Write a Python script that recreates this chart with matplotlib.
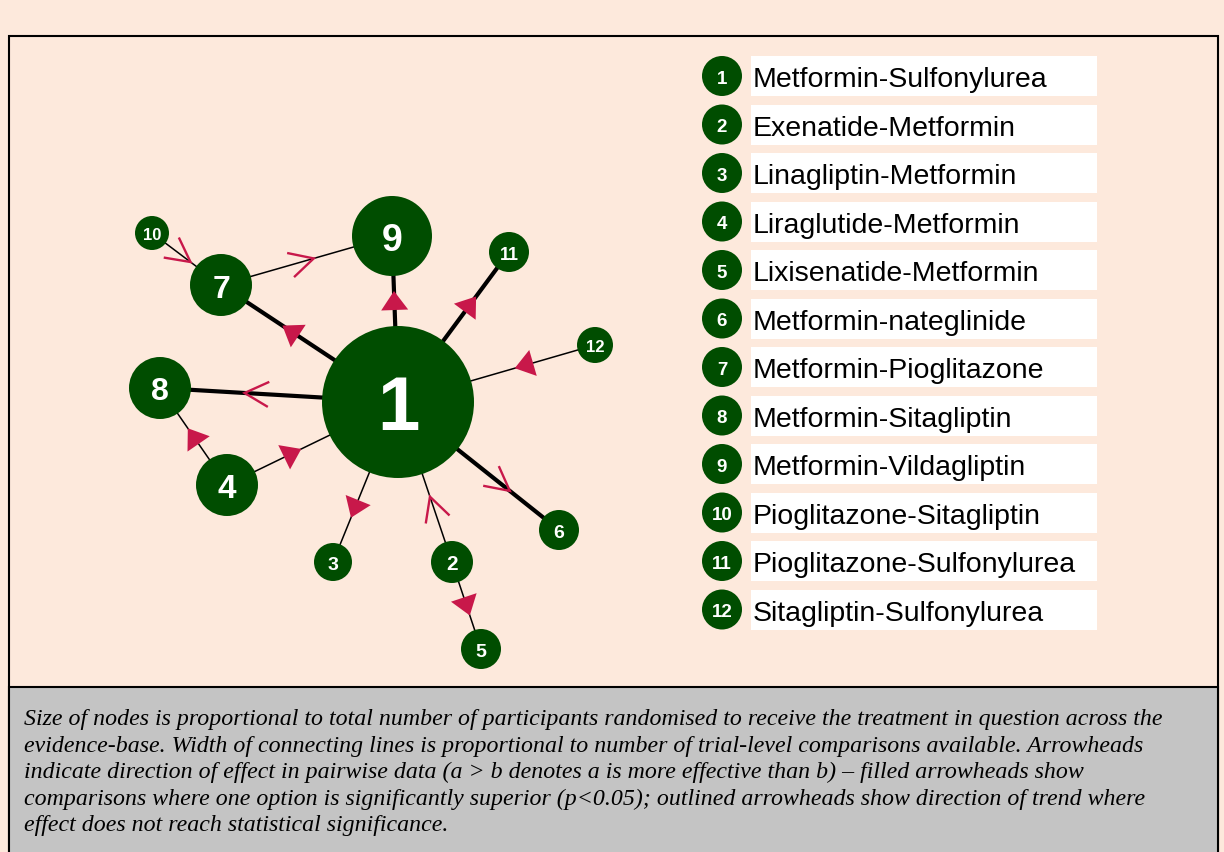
import numpy as np
from matplotlib import pyplot as plt
from matplotlib.patches import Circle, Rectangle, Polygon

plt.rcParams['font.family'] = ['Liberation Sans', 'DejaVu Sans']

# treatments (legend)
treatments = ["Metformin-Sulfonylurea", "Exenatide-Metformin", "Linagliptin-Metformin",
              "Liraglutide-Metformin", "Lixisenatide-Metformin", "Metformin-nateglinide",
              "Metformin-Pioglitazone", "Metformin-Sitagliptin", "Metformin-Vildagliptin",
              "Pioglitazone-Sitagliptin", "Pioglitazone-Sulfonylurea", "Sitagliptin-Sulfonylurea"]

# node size (radius, px) ~ participants
node_size = [76, 21, 19, 31, 20, 20, 31, 31, 40, 17, 20, 18]
node_font = [55, 15, 14, 24, 14, 14, 23, 23, 27, 12, 13, 12]
# layout positions (px)
node_x = [398, 452, 333, 227, 481, 559, 221, 160, 392, 152, 509, 595]
node_y = [403, 563, 563, 486, 650, 531, 286, 389, 237, 234, 253, 346]

# comparisons: arrow points from -> to ("a > b")
edge_from = [1, 1, 1, 12, 1, 4, 4, 1, 2, 2, 1, 7, 10]
edge_to = [7, 9, 11, 1, 8, 8, 1, 3, 1, 5, 6, 9, 7]
edge_thick = [1, 1, 1, 0, 1, 0, 0, 0, 0, 0, 1, 0, 0]
edge_sig = [1, 1, 1, 1, 0, 1, 1, 1, 0, 1, 0, 0, 0]

caption_lines = [
    "Size of nodes is proportional to total number of participants randomised to receive the treatment in question across the",
    "evidence-base. Width of connecting lines is proportional to number of trial-level comparisons available. Arrowheads",
    "indicate direction of effect in pairwise data (a > b denotes a is more effective than b) \u2013 filled arrowheads show",
    "comparisons where one option is significantly superior (p<0.05); outlined arrowheads show direction of trend where",
    "effect does not reach statistical significance.",
]

green = '#004d00'
red = '#c8184a'
peach = '#fde9dc'

fig = plt.figure(figsize=(12.24, 8.53), dpi=100, facecolor=peach)
ax = fig.add_axes([0, 0, 1, 1])
ax.set_xlim(0, 1224)
ax.set_ylim(853, 0)
ax.axis('off')

# frames
ax.add_patch(Rectangle((9, 37), 1209, 830, facecolor=peach, edgecolor='black', lw=1.5, zorder=0))
ax.add_patch(Rectangle((9, 688), 1209, 180, facecolor='#c4c4c4', edgecolor='black', lw=1.5, zorder=0))

# edges
for a, b, th, sig in zip(edge_from, edge_to, edge_thick, edge_sig):
    x1, y1 = node_x[a - 1], node_y[a - 1]
    x2, y2 = node_x[b - 1], node_y[b - 1]
    ax.plot([x1, x2], [y1, y2], color='black', lw=3.0 if th else 1.1, zorder=1, solid_capstyle='butt')
    d = np.array([x2 - x1, y2 - y1], float)
    d /= np.hypot(*d)
    p = np.array([-d[1], d[0]])
    e1 = np.array([x1, y1]) + d * node_size[a - 1]
    e2 = np.array([x2, y2]) - d * node_size[b - 1]
    c = (e1 + e2) / 2
    if sig:
        tip = c + d * 10
        base = c - d * 9
        ax.add_patch(Polygon([tip, base + p * 13.5, base - p * 13.5], closed=True,
                             facecolor=red, edgecolor='none', zorder=3))
    else:
        tip = c + d * 12
        back = tip - d * 23
        ax.plot([back[0] + p[0] * 12, tip[0], back[0] - p[0] * 12],
                [back[1] + p[1] * 12, tip[1], back[1] - p[1] * 12],
                color=red, lw=1.7, zorder=3, solid_joinstyle='miter')

# nodes
for i in range(len(node_x)):
    ax.add_patch(Circle((node_x[i], node_y[i]), node_size[i], facecolor=green, edgecolor='none', zorder=4))
    fs = node_font[i]
    ax.text(node_x[i], node_y[i] + 0.36 * fs * 100 / 72, str(i + 1), color='white', fontsize=fs,
            fontweight='bold', ha='center', va='baseline', zorder=5)

# legend
for i, name in enumerate(treatments):
    y = 77 + i * 48.5
    ax.add_patch(Circle((722, y), 20, facecolor=green, edgecolor='none', zorder=4))
    ax.text(722, y + 0.36 * 13.5 * 100 / 72, str(i + 1), color='white', fontsize=13.5,
            fontweight='bold', ha='center', va='baseline', zorder=5)
    ax.add_patch(Rectangle((751, y - 20), 346, 40, facecolor='white', edgecolor='none', zorder=2))
    ax.text(753, y + 0.36 * 20.5 * 100 / 72, name, color='black', fontsize=20.5,
            ha='left', va='baseline', zorder=5)

# caption
for i, line in enumerate(caption_lines):
    ax.text(24, 725 + i * 26.6, line, fontsize=17.2, family=['Liberation Serif', 'DejaVu Serif'],
            style='italic', ha='left', va='baseline', color='black')

fig.savefig('out.png', dpi=100, facecolor=fig.get_facecolor())
